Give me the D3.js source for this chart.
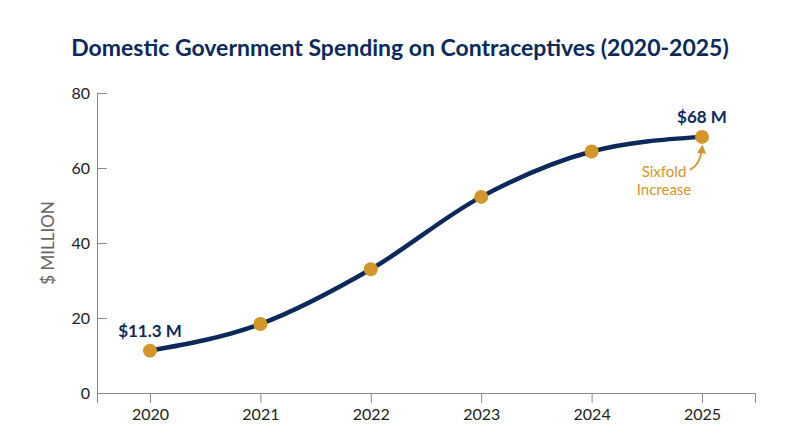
<!DOCTYPE html>
<html><head><meta charset="utf-8">
<script src="https://cdn.jsdelivr.net/npm/d3@7"></script>
<style>body{margin:0;background:#fff}text{font-family:Lato,"Open Sans",sans-serif}</style>
</head><body><div id="chart"></div>
<script>
// Chart data
var years = [2020, 2021, 2022, 2023, 2024, 2025];
var spending = [11.3, 18.4, 33.0, 52.3, 64.4, 68.3];
var yTicks = [0, 20, 40, 60, 80];

var svgWidth = 800, svgHeight = 447;
var margin = { top: 93, right: 45, bottom: 54, left: 97 };
var width = svgWidth - margin.left - margin.right;
var height = svgHeight - margin.top - margin.bottom;

var navy = "#0b2a5b", gold = "#d4952b", grey = "#8a8a8a";

var svg = d3.select("#chart").append("svg")
  .attr("width", svgWidth).attr("height", svgHeight);

svg.append("text").attr("x", 400).attr("y", 56).attr("text-anchor", "middle")
  .style("font-size", "23px").style("font-weight", "700").style("fill", navy)
  .text("Domestic Government Spending on Contraceptives (2020-2025)");

var g = svg.append("g").attr("transform", `translate(${margin.left},${margin.top})`);

var x = d3.scaleLinear().domain([2019.52, 2025.48]).range([0, width]);
var y = d3.scaleLinear().domain([0, 80]).range([height, 0]);

// y axis: ticks pointing into the plot
var yAxis = g.append("g").call(d3.axisRight(y).tickValues(yTicks).tickSize(10));
yAxis.select(".domain").attr("stroke", grey);
yAxis.selectAll(".tick line").attr("stroke", grey);
yAxis.selectAll("text").attr("text-anchor", "end").attr("x", -7)
  .style("font-size", "16px").style("fill", "#222");

var xAxis = g.append("g").attr("transform", `translate(0,${height})`)
  .call(d3.axisBottom(x).tickValues(years).tickFormat(d3.format("d")).tickSize(10).tickPadding(6));
xAxis.select(".domain").attr("stroke", grey);
xAxis.selectAll(".tick line").attr("stroke", grey);
xAxis.selectAll("text").style("font-size", "16px").style("fill", "#222");

svg.append("text").attr("transform", `translate(54,${margin.top + height / 2}) rotate(-90)`)
  .attr("text-anchor", "middle").style("font-size", "17px").style("fill", "#666")
  .text("$ MILLION");

var data = years.map((d, i) => ({ year: d, value: spending[i] }));

g.append("path").datum(data)
  .attr("fill", "none").attr("stroke", navy).attr("stroke-width", 4.5)
  .attr("d", d3.line().x(d => x(d.year)).y(d => y(d.value)).curve(d3.curveMonotoneX));

g.selectAll("circle").data(data).enter().append("circle")
  .attr("cx", d => x(d.year)).attr("cy", d => y(d.value)).attr("r", 7)
  .attr("fill", gold);

g.append("text").attr("x", x(2020)).attr("y", y(spending[0]) - 14).attr("text-anchor", "middle")
  .style("font-size", "17px").style("font-weight", "700").style("fill", navy).text("$11.3 M");
g.append("text").attr("x", x(2025)).attr("y", y(spending[5]) - 14).attr("text-anchor", "middle")
  .style("font-size", "17px").style("font-weight", "700").style("fill", navy).text("$68 M");

// annotation
var ax = x(2025), ay = y(spending[5]);
["Sixfold", "Increase"].forEach(function (t, i) {
  g.append("text").attr("x", ax - 38).attr("y", ay + 40 + i * 18).attr("text-anchor", "middle")
    .style("font-size", "15px").style("fill", gold).text(t);
});
svg.append("defs").append("marker").attr("id", "ah").attr("viewBox", "0 0 10 10")
  .attr("refX", 5).attr("refY", 5).attr("markerWidth", 5).attr("markerHeight", 5).attr("orient", "auto")
  .append("path").attr("d", "M0,0L10,5L0,10z").attr("fill", gold);
g.append("path").attr("d", `M${ax - 12},${ay + 33} Q${ax - 2},${ay + 28} ${ax},${ay + 12}`)
  .attr("fill", "none").attr("stroke", gold).attr("stroke-width", 1.8).attr("marker-end", "url(#ah)");
</script></body></html>
